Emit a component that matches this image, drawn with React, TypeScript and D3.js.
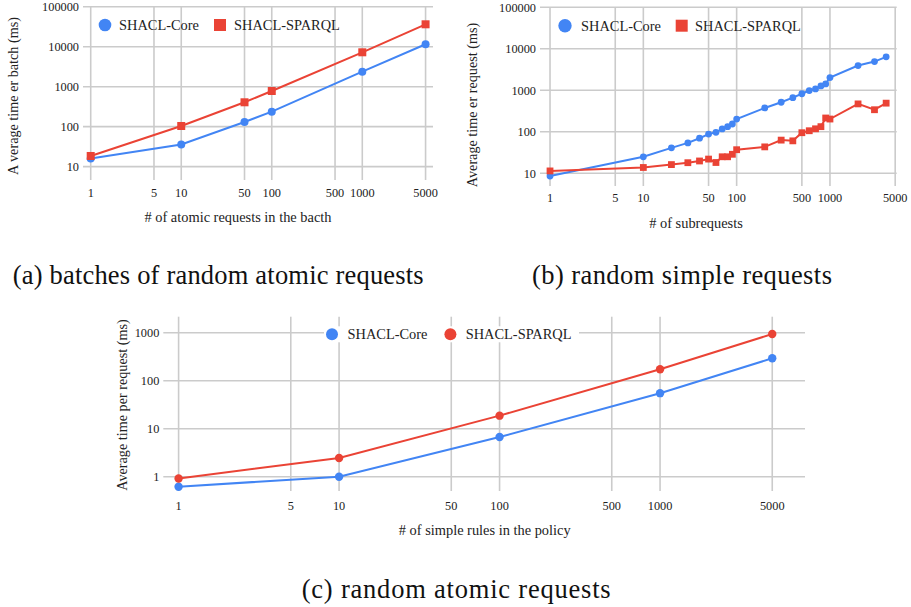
import React from "react";
import * as d3 from "d3";

const xTicks = [1, 5, 10, 50, 100, 500, 1000, 5000];
const yTicksAB = [10, 100, 1000, 10000, 100000];
const yTicksC = [1, 10, 100, 1000];

const seriesNames = ["SHACL-Core", "SHACL-SPARQL"];

const aX = [1, 10, 50, 100, 1000, 5000];
const aCore = [16, 36, 131, 237, 2370, 11500];
const aSparql = [18.5, 104, 407, 780, 7240, 36300];

const bX = [1, 10, 20, 30, 40, 50, 60, 70, 80, 90, 100, 200, 300, 400, 500, 600, 700, 800, 900, 1000, 2000, 3000, 4000];
const bCore = [8.6, 25, 41, 54, 70, 88, 97, 117, 133, 154, 203, 375, 515, 665, 825, 986, 1080, 1276, 1425, 2030, 3945, 4920, 6400];
const bSparql = [11.4, 13.8, 16.2, 18, 19.8, 22, 18.2, 25, 25, 28.7, 37, 43.3, 63, 60.5, 95, 106, 118, 133, 215, 203, 470, 340, 490];

const cX = [1, 10, 100, 1000, 5000];
const cCore = [0.62, 1.0, 6.7, 55, 293];
const cSparql = [0.92, 2.45, 18.7, 173, 940];

const BLUE = "#4285F4";
const RED = "#EA4335";
const GRID = "#cbcbcb";
const TEXT = "#222222";
const FONT = "'Liberation Serif', 'Times New Roman', serif";

type PanelProps = {
  box: { left: number; right: number; top: number; bottom: number };
  xDomain: [number, number];
  yDomain: [number, number];
  yTicks: number[];
  xs: number[];
  core: number[];
  sparql: number[];
  sparqlShape: "square" | "circle";
  markerR: number;
  xLabelY: number;
  xTitle: string;
  xTitleX: number;
  xTitleY: number;
  yTitle: string;
  yTitleX: number;
  yTitleY: number;
  legend: { y: number; coreX: number; coreTextX: number; spX: number; spTextX: number; r: number; bg?: [number, number] };
};

function Panel(p: PanelProps) {
  const x = d3.scaleLog().domain(p.xDomain).range([p.box.left, p.box.right]);
  const y = d3.scaleLog().domain(p.yDomain).range([p.box.bottom, p.box.top]);
  const line = d3
    .line<number>()
    .x((_, i) => x(p.xs[i]))
    .y((d) => y(d));
  const half = p.markerR;
  return (
    <g>
      {p.yTicks.map((t) => (
        <line key={"h" + t} x1={p.box.left} x2={p.box.right} y1={y(t)} y2={y(t)} stroke={GRID} strokeWidth={1.6} />
      ))}
      {xTicks.map((t) => (
        <line key={"v" + t} x1={x(t)} x2={x(t)} y1={p.box.top} y2={p.box.bottom} stroke={GRID} strokeWidth={1.6} />
      ))}
      {p.yTicks.map((t) => (
        <text key={"yl" + t} x={p.box.left - 4} y={y(t)} dy="0.35em" textAnchor="end" fontSize={12.3} fill={TEXT} fontFamily={FONT}>
          {String(t)}
        </text>
      ))}
      {xTicks.map((t) => (
        <text key={"xl" + t} x={x(t)} y={p.xLabelY} dy="0.35em" textAnchor="middle" fontSize={12.3} fill={TEXT} fontFamily={FONT}>
          {String(t)}
        </text>
      ))}
      <text x={p.xTitleX} y={p.xTitleY} dy="0.35em" textAnchor="middle" fontSize={14.4} fill={TEXT} fontFamily={FONT}>
        {p.xTitle}
      </text>
      <text
        transform={`translate(${p.yTitleX},${p.yTitleY}) rotate(-90)`}
        dy="0.35em"
        textAnchor="middle"
        fontSize={14.2}
        fill={TEXT}
        fontFamily={FONT}
      >
        {p.yTitle}
      </text>
      <path d={line(p.core) || ""} fill="none" stroke={BLUE} strokeWidth={2} />
      <path d={line(p.sparql) || ""} fill="none" stroke={RED} strokeWidth={2} />
      {p.core.map((v, i) => (
        <circle key={"c" + i} cx={x(p.xs[i])} cy={y(v)} r={p.markerR} fill={BLUE} />
      ))}
      {p.sparql.map((v, i) =>
        p.sparqlShape === "square" ? (
          <rect key={"s" + i} x={x(p.xs[i]) - half} y={y(v) - half} width={half * 2} height={half * 2} fill={RED} />
        ) : (
          <circle key={"s" + i} cx={x(p.xs[i])} cy={y(v)} r={p.markerR} fill={RED} />
        )
      )}
      {p.legend.bg && (
        <rect x={p.legend.bg[0]} y={p.legend.y - 8} width={p.legend.bg[1] - p.legend.bg[0]} height={16} fill="#ffffff" />
      )}
      <circle cx={p.legend.coreX} cy={p.legend.y} r={p.legend.r} fill={BLUE} />
      <text x={p.legend.coreTextX} y={p.legend.y} dy="0.35em" fontSize={14.4} fill={TEXT} fontFamily={FONT}>
        {seriesNames[0]}
      </text>
      {p.sparqlShape === "square" ? (
        <rect x={p.legend.spX - 6} y={p.legend.y - 6} width={12} height={12} fill={RED} />
      ) : (
        <circle cx={p.legend.spX} cy={p.legend.y} r={p.legend.r} fill={RED} />
      )}
      <text x={p.legend.spTextX} y={p.legend.y} dy="0.35em" fontSize={14.4} fill={TEXT} fontFamily={FONT}>
        {seriesNames[1]}
      </text>
    </g>
  );
}

function Caption({ x, y, w, text }: { x: number; y: number; w: number; text: string }) {
  return (
    <text x={x} y={y} fontSize={26.5} fill="#111" fontFamily={FONT} textLength={w} lengthAdjust="spacing">
      {text}
    </text>
  );
}

export default function App() {
  return (
    <svg width={911} height={607} style={{ position: "absolute", left: 0, top: 0, background: "#fff" }}>
      <rect x={0} y={0} width={911} height={607} fill="#fff" />
      <Panel
        box={{ left: 83, right: 433, top: 6.7, bottom: 180 }}
        xDomain={[0.822, 6040]}
        yDomain={[4.64, 100000]}
        yTicks={yTicksAB}
        xs={aX}
        core={aCore}
        sparql={aSparql}
        sparqlShape="square"
        markerR={4}
        xLabelY={193}
        xTitle="# of atomic requests in the bacth"
        xTitleX={238}
        xTitleY={217}
        yTitle="A verage time er batch (ms)"
        yTitleX={13}
        yTitleY={96}
        legend={{ y: 25, coreX: 105, coreTextX: 119, spX: 220, spTextX: 234, r: 6.3 }}
      />
      <Panel
        box={{ left: 540, right: 896.7, top: 7.3, bottom: 186 }}
        xDomain={[0.781, 5190]}
        yDomain={[4.94, 100000]}
        yTicks={yTicksAB}
        xs={bX}
        core={bCore}
        sparql={bSparql}
        sparqlShape="square"
        markerR={3.4}
        xLabelY={198}
        xTitle="# of subrequests"
        xTitleX={696}
        xTitleY={222.7}
        yTitle="Average time er request (ms)"
        yTitleX={471.7}
        yTitleY={105}
        legend={{ y: 25.7, coreX: 565, coreTextX: 581, spX: 681.7, spTextX: 695, r: 6.7 }}
      />
      <Panel
        box={{ left: 163.3, right: 805, top: 316.7, bottom: 491 }}
        xDomain={[0.803, 8000]}
        yDomain={[0.504, 2154]}
        yTicks={yTicksC}
        xs={cX}
        core={cCore}
        sparql={cSparql}
        sparqlShape="circle"
        markerR={4.2}
        xLabelY={506}
        xTitle="# of simple rules in the policy"
        xTitleX={484.7}
        xTitleY={530}
        yTitle="Average time per request (ms)"
        yTitleX={122}
        yTitleY={405}
        legend={{ y: 334.3, coreX: 332, coreTextX: 347.5, spX: 450.4, spTextX: 465.7, r: 6, bg: [324, 579] }}
      />
      <Caption x={12.7} y={284} w={411} text="(a) batches of random atomic requests" />
      <Caption x={532} y={284} w={300} text="(b) random simple requests" />
      <Caption x={301.7} y={598} w={309} text="(c) random atomic requests" />
    </svg>
  );
}
